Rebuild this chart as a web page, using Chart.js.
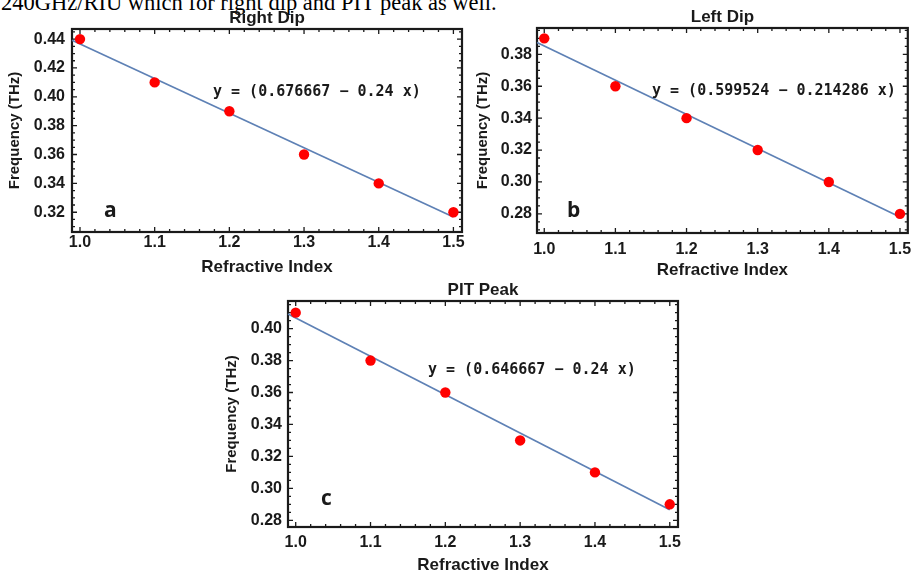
<!DOCTYPE html>
<html>
<head>
<meta charset="utf-8">
<script src="https://cdn.jsdelivr.net/npm/chart.js@4.4.1/dist/chart.umd.min.js"></script>
<style>
  html, body { margin: 0; padding: 0; background: #fff; }
  #page { position: relative; width: 913px; height: 573px; overflow: hidden; }
  #page canvas { position: absolute; }
  .caption {
    position: absolute; left: 1px; top: -8px;
    font: 22.5px 'Liberation Serif', 'Times New Roman', serif;
    line-height: 22.5px; white-space: nowrap; color: #000;
  }
</style>
</head>
<body>
<div id="page">
  <div class="caption">240GHz/RIU which for right dip and PIT peak as well.</div>
  <canvas id="rightDip" width="470" height="282" style="left:0px;top:0px"></canvas>
  <canvas id="leftDip" width="447" height="285" style="left:466px;top:0px"></canvas>
  <canvas id="pitPeak" width="486" height="304" style="left:214px;top:276px"></canvas>
</div>
<script>
// refractive index sweep, same for all three panels
var refIndex = [1.0, 1.1, 1.2, 1.3, 1.4, 1.5];

// resonance frequencies in THz
var rightDipFreq = [0.44, 0.41, 0.39, 0.36, 0.34, 0.32];
var leftDipFreq  = [0.39, 0.36, 0.34, 0.32, 0.30, 0.28];
var pitPeakFreq  = [0.41, 0.38, 0.36, 0.33, 0.31, 0.29];

// linear fits: [intercept, slope]
var rightDipFit = [0.676667, -0.24];
var leftDipFit  = [0.599524, -0.214286];
var pitPeakFit  = [0.646667, -0.24];

// tick labels
var xTicks        = [1.0, 1.1, 1.2, 1.3, 1.4, 1.5];
var rightDipTicks = [0.32, 0.34, 0.36, 0.38, 0.40, 0.42, 0.44];
var leftDipTicks  = [0.28, 0.30, 0.32, 0.34, 0.36, 0.38];
var pitPeakTicks  = [0.28, 0.30, 0.32, 0.34, 0.36, 0.38, 0.40];

var SANS = "'Liberation Sans', Arial, sans-serif";

function tickValues(min, max, step) {
  var out = [];
  var k0 = Math.ceil(min / step - 1e-9), k1 = Math.floor(max / step + 1e-9);
  for (var k = k0; k <= k1; k++) out.push(k * step);
  return out;
}

function isMajor(v, step) {
  var r = v / step;
  return Math.abs(r - Math.round(r)) < 1e-6;
}

// frame with inward ticks on all four sides
var framePlugin = {
  id: 'frame',
  beforeDatasetsDraw: function (chart, args, opts) {
    var ctx = chart.ctx, a = chart.chartArea;
    var x = chart.scales.x, y = chart.scales.y;
    ctx.save();
    ctx.strokeStyle = '#1a1a1a';
    ctx.lineWidth = 1.3;
    tickValues(x.min, x.max, 0.02).forEach(function (v) {
      var px = x.getPixelForValue(v);
      var len = isMajor(v, 0.1) ? 5 : 3;
      ctx.beginPath();
      ctx.moveTo(px, a.bottom); ctx.lineTo(px, a.bottom - len);
      ctx.moveTo(px, a.top); ctx.lineTo(px, a.top + len);
      ctx.stroke();
    });
    tickValues(y.min, y.max, 0.005).forEach(function (v) {
      var py = y.getPixelForValue(v);
      var len = isMajor(v, 0.02) ? 5 : 3;
      ctx.beginPath();
      ctx.moveTo(a.left, py); ctx.lineTo(a.left + len, py);
      ctx.moveTo(a.right, py); ctx.lineTo(a.right - len, py);
      ctx.stroke();
    });
    ctx.lineWidth = 2.2;
    ctx.strokeRect(a.left, a.top, a.right - a.left, a.bottom - a.top);
    ctx.restore();
  },
  afterDatasetsDraw: function (chart, args, opts) {
    var ctx = chart.ctx, a = chart.chartArea;
    ctx.save();
    ctx.fillStyle = '#1a1a1a';
    // panel title
    ctx.font = 'bold 17px ' + SANS;
    ctx.textAlign = 'center';
    ctx.textBaseline = 'middle';
    ctx.fillText(opts.title, (a.left + a.right) / 2, a.top - 10.5);
    // fit equation
    ctx.font = "bold 15px 'DejaVu Sans Mono', monospace";
    ctx.textAlign = 'left';
    ctx.fillText(opts.equation, a.left + opts.eqX, a.top + opts.eqY);
    // panel letter
    ctx.font = "bold 21px 'Open Sans', sans-serif";
    ctx.fillText(opts.letter, a.left + opts.letterX, a.bottom - opts.letterY);
    ctx.restore();
  }
};

function makePanel(id, freq, fit, yTicks, p) {
  var pts = refIndex.map(function (v, i) { return { x: v, y: freq[i] }; });
  var fitLine = [p.xMin, 1.5].map(function (v) { return { x: v, y: fit[0] + fit[1] * v }; });
  var equation = 'y = (' + fit[0] + ' \u2212 ' + Math.abs(fit[1]) + ' x)';

  return new Chart(document.getElementById(id).getContext('2d'), {
    type: 'scatter',
    data: {
      datasets: [{
        data: pts,
        pointRadius: 5.2,
        pointBackgroundColor: '#ff0000',
        pointBorderWidth: 0,
        clip: false
      }, {
        data: fitLine,
        showLine: true,
        borderColor: '#5e81b5',
        borderWidth: 1.7,
        pointRadius: 0,
        clip: false
      }]
    },
    options: {
      responsive: false,
      animation: false,
      events: [],
      layout: { padding: { top: p.padTop, left: 0, right: p.padRight, bottom: 2 } },
      plugins: {
        legend: { display: false },
        tooltip: { enabled: false },
        frame: { title: p.title, equation: equation, letter: p.letter,
                 eqX: p.eqX, eqY: p.eqY, letterX: p.letterX, letterY: p.letterY }
      },
      scales: {
        x: {
          type: 'linear',
          min: p.xMin, max: p.xMax,
          grid: { display: false, drawTicks: false },
          border: { display: false },
          afterBuildTicks: function (s) { s.ticks = xTicks.map(function (v) { return { value: v }; }); },
          afterFit: function (s) { s.height = p.xAxisH; s.paddingLeft = 0; s.paddingRight = 0; },
          ticks: {
            padding: p.xTickPad,
            maxRotation: 0,
            color: '#1a1a1a',
            font: { family: SANS, size: 16, weight: 'bold' },
            callback: function (v) { return v.toFixed(1); }
          },
          title: {
            display: true, text: 'Refractive Index', color: '#1a1a1a',
            font: { family: SANS, size: 17, weight: 'bold' },
            padding: { top: 0, bottom: 2 }
          }
        },
        y: {
          type: 'linear',
          min: p.yMin, max: p.yMax,
          grid: { display: false, drawTicks: false },
          border: { display: false },
          afterBuildTicks: function (s) { s.ticks = yTicks.map(function (v) { return { value: v }; }); },
          afterFit: function (s) { s.width = p.yAxisW; },
          ticks: {
            padding: p.yTickPad,
            color: '#1a1a1a',
            font: { family: SANS, size: 16, weight: 'bold' },
            callback: function (v) { return v.toFixed(2); }
          },
          title: {
            display: true, text: 'Frequency (THz)', color: '#1a1a1a',
            font: { family: SANS, size: 15, weight: 'bold' },
            padding: { top: p.yTitlePad, bottom: 0 }
          }
        }
      }
    },
    plugins: [framePlugin]
  });
}

var rightDipChart = makePanel('rightDip', rightDipFreq, rightDipFit, rightDipTicks, {
  title: 'Right Dip', letter: 'a',
  xMin: 0.9893, xMax: 1.5115, yMin: 0.3063, yMax: 0.4470,
  padTop: 29, padRight: 8, xAxisH: 48, yAxisW: 72,
  xTickPad: 1, yTickPad: 7, yTitlePad: 6,
  eqX: 141, eqY: 63, letterX: 32, letterY: 21
});

var leftDipChart = makePanel('leftDip', leftDipFreq, leftDipFit, leftDipTicks, {
  title: 'Left Dip', letter: 'b',
  xMin: 0.9898, xMax: 1.5110, yMin: 0.2680, yMax: 0.3965,
  padTop: 28, padRight: 2, xAxisH: 50, yAxisW: 71,
  xTickPad: 7, yTickPad: 5, yTitlePad: 8,
  eqX: 115, eqY: 63, letterX: 30, letterY: 22
});

var pitPeakChart = makePanel('pitPeak', pitPeakFreq, pitPeakFit, pitPeakTicks, {
  title: 'PIT Peak', letter: 'c',
  xMin: 0.9897, xMax: 1.5110, yMin: 0.2758, yMax: 0.4173,
  padTop: 25, padRight: 22, xAxisH: 51, yAxisW: 74,
  xTickPad: 6, yTickPad: 6, yTitlePad: 8.7,
  eqX: 140, eqY: 69, letterX: 33, letterY: 28
});
</script>
</body>
</html>
